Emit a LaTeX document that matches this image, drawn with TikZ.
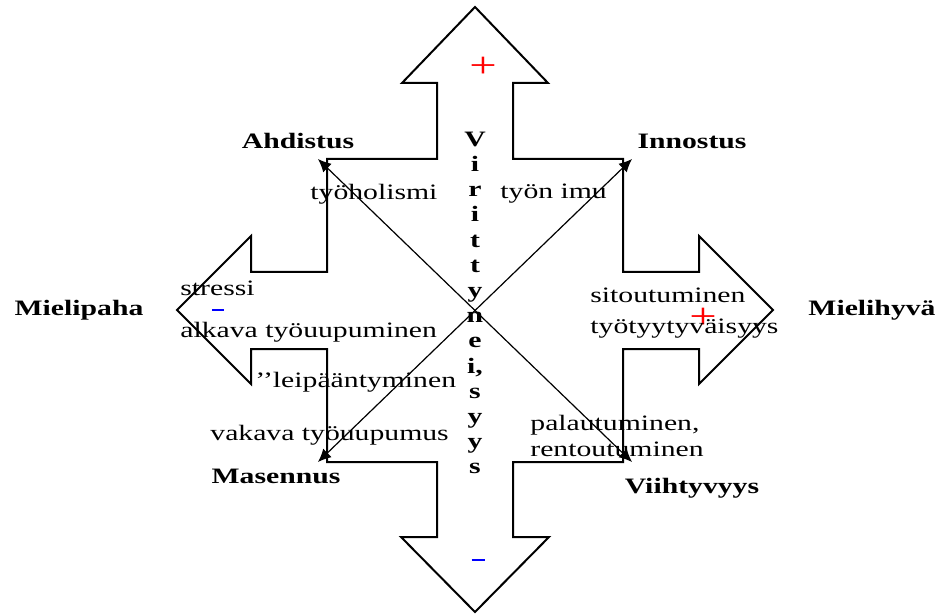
\documentclass[tikz,border=0pt]{standalone}
\usepackage{fontspec}
\setmainfont{Liberation Serif}[FakeStretch=1.35]
\usetikzlibrary{arrows.meta}
\tikzset{
  outline/.style={line width=1pt, line join=miter},
  diag/.style={line width=0.6pt, {Latex[length=6.5pt,width=6pt]}-{Latex[length=6.5pt,width=6pt]}},
  pole/.style={font=\bfseries, inner sep=0pt},
  lbl/.style={inner sep=0pt, anchor=west},
  plus/.style={inner sep=0pt, text=red, font=\fontsize{18}{20}\selectfont},
  minus/.style={inner sep=0pt, text=blue}
}
\begin{document}
\fontsize{11}{12.6}\selectfont
\begin{tikzpicture}[x=0.5pt,y=-0.5pt]
\useasboundingbox (0,0) rectangle (941,614);
% the four-way arrow
\draw[outline] (475,7) -- (548,83) -- (513,83) -- (513,159) -- (623,159) -- (623,272)
  -- (699,272) -- (699,236) -- (773,310) -- (699,384) -- (699,349) -- (623,349)
  -- (623,462) -- (513,462) -- (513,537) -- (549,537) -- (475,612) -- (401,537)
  -- (437,537) -- (437,462) -- (327,462) -- (327,349) -- (251,349) -- (251,384)
  -- (177,310) -- (251,236) -- (251,272) -- (327,272) -- (327,159) -- (437,159)
  -- (437,83) -- (402,83) -- cycle;
\coordinate (nw) at (318,159);
\coordinate (ne) at (632,159);
\coordinate (sw) at (318,462);
\coordinate (se) at (632,462);
\draw[diag] (nw) -- (se);
\draw[diag] (sw) -- (ne);
% poles
\node[pole] (ahdistus) at (298,141) {Ahdistus};
\node[pole] (innostus) at (692,141) {Innostus};
\node[pole] (mielipaha) at (79,310) {Mielipaha};
\node[pole] (mielihyva) at (872,310) {Mielihyvä};
\node[pole] (masennus) at (276,476) {Masennus};
\node[pole] (viihtyvyys) at (692,488) {Viihtyvyys};
\node[pole, align=center] (vireys) at (475,303)
  {V\\i\\r\\i\\t\\t\\y\\n\\e\\i,\\s\\y\\y\\s};
% signs
\node[plus] (plustop) at (483,67) {+};
\node[plus] (plusright) at (703,318) {+};
\node[minus] (minusleft) at (218,310) {\rule{6pt}{1.4pt}};
\node[minus] (minusbottom) at (478,560) {\rule{6.5pt}{1.4pt}};
% states
\node[lbl] (holismi) at (310,194) {työholismi};
\node[lbl] (imu) at (500,194) {työn imu};
\node[lbl] (stressi) at (180,288) {stressi};
\node[lbl] (alkava) at (180,332) {alkava työuupuminen};
\node[lbl] (leipaa) at (255,382) {'{}'leipääntyminen};
\node[lbl] (vakava) at (210,435) {vakava työuupumus};
\node[lbl, align=left] (palaut) at (530,436) {palautuminen,\\rentoutuminen};
\node[lbl, align=left] (sitout) at (590,313) {sitoutuminen\\[2.5pt]työtyytyväisyys};
\end{tikzpicture}
\end{document}
